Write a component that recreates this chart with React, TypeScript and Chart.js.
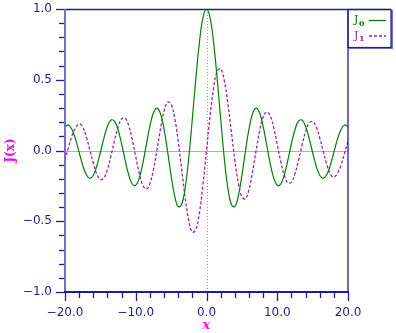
import React, { useEffect, useRef } from "react";
import { Chart, registerables } from "chart.js";

Chart.register(...registerables);

// ---- data ----
const xValues = [
  -20, -19.5, -19, -18.5, -18, -17.5, -17, -16.5, -16, -15.5, -15, -14.5, -14, -13.5, -13, -12.5,
  -12, -11.5, -11, -10.5, -10, -9.5, -9, -8.5, -8, -7.5, -7, -6.5, -6, -5.5, -5, -4.5, -4, -3.5,
  -3, -2.5, -2, -1.5, -1, -0.5, 0, 0.5, 1, 1.5, 2, 2.5, 3, 3.5, 4, 4.5, 5, 5.5, 6, 6.5, 7, 7.5,
  8, 8.5, 9, 9.5, 10, 10.5, 11, 11.5, 12, 12.5, 13, 13.5, 14, 14.5, 15, 15.5, 16, 16.5, 17, 17.5,
  18, 18.5, 19, 19.5, 20,
];

const j0Values = [
  0.167, 0.1805, 0.1466, 0.0783, -0.0134, -0.1029, -0.1699, -0.1969, -0.1749, -0.1092, -0.0142,
  0.0875, 0.1711, 0.215, 0.2069, 0.1469, 0.0477, -0.0677, -0.1712, -0.2366, -0.2459, -0.1939,
  -0.0903, 0.0419, 0.1717, 0.2663, 0.3001, 0.2601, 0.1506, -0.0068, -0.1776, -0.3205, -0.3971,
  -0.3801, -0.2601, -0.0484, 0.2239, 0.5118, 0.7652, 0.9385, 1.0, 0.9385, 0.7652, 0.5118, 0.2239,
  -0.0484, -0.2601, -0.3801, -0.3971, -0.3205, -0.1776, -0.0068, 0.1506, 0.2601, 0.3001, 0.2663,
  0.1717, 0.0419, -0.0903, -0.1939, -0.2459, -0.2366, -0.1712, -0.0677, 0.0477, 0.1469, 0.2069,
  0.215, 0.1711, 0.0875, -0.0142, -0.1092, -0.1749, -0.1969, -0.1699, -0.1029, -0.0134, 0.0783,
  0.1466, 0.1805, 0.167,
];

const j1Values = [
  -0.0668, 0.0219, 0.1057, 0.1609, 0.188, 0.1672, 0.0977, 0.0058, -0.0904, -0.1672, -0.2051,
  -0.1934, -0.1334, -0.038, 0.0703, 0.1655, 0.2234, 0.2284, 0.1768, 0.0789, -0.0435, -0.1613,
  -0.2453, -0.2731, -0.2346, -0.1352, 0.0047, 0.1538, 0.2767, 0.3414, 0.3276, 0.2311, 0.066,
  -0.1374, -0.3391, -0.4971, -0.5767, -0.5579, -0.4401, -0.2423, 0, 0.2423, 0.4401, 0.5579, 0.5767,
  0.4971, 0.3391, 0.1374, -0.066, -0.2311, -0.3276, -0.3414, -0.2767, -0.1538, -0.0047, 0.1352,
  0.2346, 0.2731, 0.2453, 0.1613, 0.0435, -0.0789, -0.1768, -0.2284, -0.2234, -0.1655, -0.0703,
  0.038, 0.1334, 0.1934, 0.2051, 0.1672, 0.0904, -0.0058, -0.0977, -0.1672, -0.188, -0.1609,
  -0.1057, -0.0219, 0.0668,
];

const xTickValues = [-20, -10, 0, 10, 20];
const yTickValues = [-1, -0.5, 0, 0.5, 1];
const seriesNames = ["J", "J"];
const seriesSubscripts = ["0", "1"];
const xTitle = "x";
const yTitle = "J(x)";

// ---- styles ----
const NAVY = "#1e1e8e";
const AXIS_LIGHT = "#7070c8";
const GREEN = "#008000";
const PURPLE = "#a020a0";
const MAGENTA = "#ff00ff";
const TICK_FONT = "DejaVu Sans";

function fmt(v: number): string {
  const s = Math.abs(v).toFixed(1);
  return v < 0 ? "\u2212" + s : s;
}

const decorPlugin = {
  id: "decor",
  beforeDatasetsDraw(chart: any) {
    const { ctx, chartArea: a, scales } = chart;
    const xs = scales.x;
    const ys = scales.y;
    ctx.save();
    // zero horizontal line
    const y0 = Math.round(ys.getPixelForValue(0)) + 0.5;
    ctx.strokeStyle = "#b0b0b0";
    ctx.lineWidth = 1;
    ctx.beginPath();
    ctx.moveTo(a.left, y0);
    ctx.lineTo(a.right, y0);
    ctx.stroke();
    // vertical dotted line at x = 0
    const x0 = Math.round(xs.getPixelForValue(0)) + 0.5;
    ctx.strokeStyle = "#9090e8";
    ctx.setLineDash([1, 2]);
    ctx.beginPath();
    ctx.moveTo(x0, a.top);
    ctx.lineTo(x0, a.bottom);
    ctx.stroke();
    ctx.restore();
  },
  afterDatasetsDraw(chart: any) {
    const { ctx, chartArea: a, scales } = chart;
    const xs = scales.x;
    const ys = scales.y;
    ctx.save();
    ctx.setLineDash([]);
    // top & right frame
    ctx.strokeStyle = NAVY;
    ctx.lineWidth = 1.3;
    ctx.beginPath();
    ctx.moveTo(a.left, a.top + 0.5);
    ctx.lineTo(a.right + 43, a.top + 0.5);
    ctx.stroke();
    ctx.beginPath();
    ctx.moveTo(a.right, a.top);
    ctx.lineTo(a.right, a.bottom);
    ctx.stroke();

    // y ticks
    ctx.strokeStyle = NAVY;
    ctx.lineWidth = 1.3;
    for (let i = -10; i <= 10; i++) {
      const y = Math.round(ys.getPixelForValue(i / 10)) + 0.5;
      const len = i % 5 === 0 ? 9 : 6;
      ctx.beginPath();
      ctx.moveTo(a.left - len, y);
      ctx.lineTo(a.left, y);
      ctx.stroke();
    }
    // x ticks
    for (let i = -20; i <= 20; i += 2) {
      const x = Math.round(xs.getPixelForValue(i)) + 0.5;
      const len = i % 10 === 0 ? 9 : 6;
      ctx.beginPath();
      ctx.moveTo(x, a.bottom);
      ctx.lineTo(x, a.bottom + len);
      ctx.stroke();
    }
    // left axis line (light)
    ctx.strokeStyle = AXIS_LIGHT;
    ctx.lineWidth = 2;
    ctx.beginPath();
    ctx.moveTo(a.left, a.top);
    ctx.lineTo(a.left, a.bottom + 1);
    ctx.stroke();
    // bottom axis line (navy)
    ctx.strokeStyle = NAVY;
    ctx.lineWidth = 2;
    ctx.beginPath();
    ctx.moveTo(a.left - 1, a.bottom);
    ctx.lineTo(a.right + 1, a.bottom);
    ctx.stroke();

    // legend box
    const lx = a.right;
    const ly = a.top;
    const lw = 43;
    const lh = 38;
    ctx.strokeStyle = AXIS_LIGHT;
    ctx.lineWidth = 2;
    ctx.beginPath();
    ctx.moveTo(lx + lw + 1, ly + 1);
    ctx.lineTo(lx + lw + 1, ly + lh + 1);
    ctx.lineTo(lx + 1, ly + lh + 1);
    ctx.stroke();
    ctx.strokeStyle = NAVY;
    ctx.lineWidth = 1.2;
    ctx.strokeRect(lx, ly + 0.5, lw, lh);

    const colors = [GREEN, PURPLE];
    const dashes = [[], [3, 2]];
    for (let k = 0; k < 2; k++) {
      const base = ly + 14 + k * 15.5;
      ctx.fillStyle = colors[k];
      ctx.textAlign = "left";
      ctx.textBaseline = "alphabetic";
      ctx.font = "11px 'DejaVu Serif'";
      ctx.fillText(seriesNames[k], lx + 6, base);
      const jw = ctx.measureText(seriesNames[k]).width;
      ctx.font = "bold 8px 'DejaVu Serif'";
      ctx.fillText(seriesSubscripts[k], lx + 6 + jw + 0.5, base + 2.5);
      ctx.strokeStyle = colors[k];
      ctx.lineWidth = 1.3;
      ctx.setLineDash(dashes[k]);
      ctx.beginPath();
      ctx.moveTo(lx + 21, base - 2.5);
      ctx.lineTo(lx + 38, base - 2.5);
      ctx.stroke();
    }
    ctx.restore();
  },
};

export default function App() {
  const ref = useRef<HTMLCanvasElement | null>(null);

  useEffect(() => {
    if (!ref.current) return;
    const j0Points = xValues.map((x, i) => ({ x, y: j0Values[i] }));
    const j1Points = xValues.map((x, i) => ({ x, y: j1Values[i] }));
    const chart = new Chart(ref.current, {
      type: "line",
      data: {
        datasets: [
          {
            label: "J0",
            data: j0Points,
            borderColor: GREEN,
            borderWidth: 1.2,
            pointRadius: 0,
            tension: 0.4,
            fill: false,
          },
          {
            label: "J1",
            data: j1Points,
            borderColor: PURPLE,
            borderWidth: 1.3,
            borderDash: [3, 2],
            pointRadius: 0,
            tension: 0.4,
            fill: false,
          },
        ],
      },
      options: {
        responsive: false,
        animation: false,
        layout: { padding: { top: 9, right: 48, left: 0, bottom: 0 } },
        plugins: { legend: { display: false }, tooltip: { enabled: false } },
        scales: {
          x: {
            type: "linear",
            min: -20,
            max: 20,
            afterFit: (s: any) => {
              s.height = 41;
              s.paddingLeft = 0;
              s.paddingRight = 0;
            },
            afterBuildTicks: (s: any) => {
              s.ticks = xTickValues.map((v) => ({ value: v }));
            },
            grid: { display: false, drawTicks: false, tickLength: 0 },
            border: { display: false },
            ticks: {
              callback: (v: any) => fmt(Number(v)),
              color: NAVY,
              font: { family: TICK_FONT, size: 12 },
              padding: 14,
              maxRotation: 0,
              autoSkip: false,
            },
            title: {
              display: true,
              text: xTitle,
              color: MAGENTA,
              font: { family: "'DejaVu Serif'", size: 13, style: "italic", weight: "bold" },
              padding: { top: 0, bottom: 0 },
            },
          },
          y: {
            type: "linear",
            min: -1,
            max: 1,
            afterFit: (s: any) => {
              s.width = 65;
              s.paddingTop = 0;
              s.paddingBottom = 0;
            },
            afterBuildTicks: (s: any) => {
              s.ticks = yTickValues.map((v) => ({ value: v }));
            },
            grid: { display: false, drawTicks: false, tickLength: 0 },
            border: { display: false },
            ticks: {
              callback: (v: any) => fmt(Number(v)),
              color: NAVY,
              font: { family: TICK_FONT, size: 12 },
              padding: 13,
              autoSkip: false,
            },
            title: {
              display: true,
              text: yTitle,
              color: MAGENTA,
              font: { family: "'DejaVu Serif'", size: 12, weight: "bold" },
              padding: { top: 4, bottom: 0 },
            },
          },
        },
      },
      plugins: [decorPlugin],
    });
    return () => chart.destroy();
  }, []);

  return (
    <div style={{ position: "fixed", left: 0, top: 0, width: 396, height: 333, background: "#fff" }}>
      <canvas ref={ref} width={396} height={333} style={{ display: "block" }} />
    </div>
  );
}
